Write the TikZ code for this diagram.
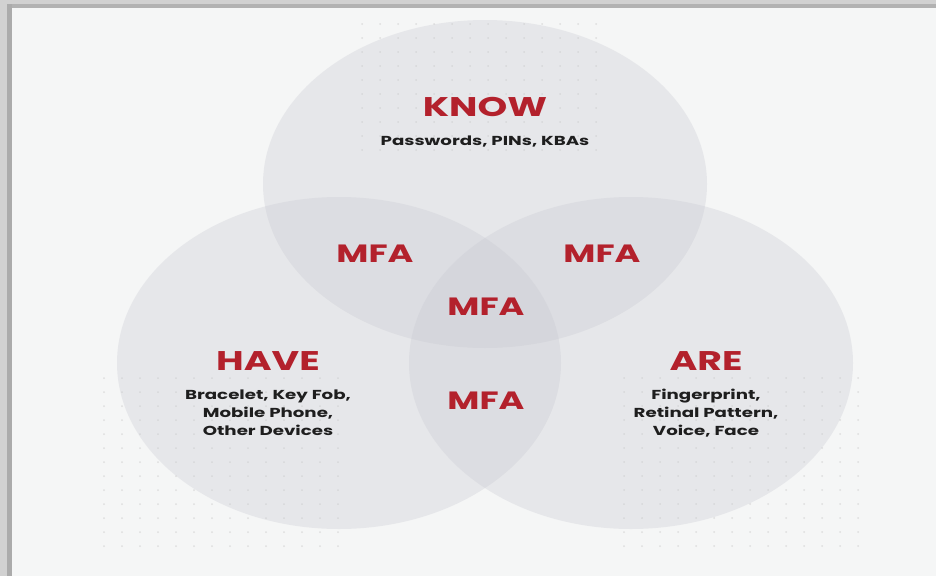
\documentclass[tikz,border=0pt]{standalone}
\usepackage{fontspec}
\setmainfont{Poppins}[FakeStretch=1.4]
\usepackage{xcolor}
\usetikzlibrary{positioning}
\definecolor{panel}{HTML}{F5F6F6}
\definecolor{disc}{HTML}{C6C7D0}
\definecolor{mfared}{HTML}{B3212C}
\definecolor{ink}{HTML}{1E1E1E}
\tikzset{
  set/.style={fill=disc,fill opacity=0.30},
  head/.style={text=mfared,font=\fontsize{27}{30}\selectfont\bfseries,inner sep=0pt},
  mfa/.style={text=mfared,font=\fontsize{25}{28}\selectfont\bfseries,inner sep=0pt},
  sub/.style={text=ink,font=\fontsize{13}{18}\selectfont\bfseries,align=center,inner sep=0pt},
  dot/.style={fill=black!13},
}

\begin{document}
\begin{tikzpicture}[x=1pt,y=-1pt]
\useasboundingbox (0,0) rectangle (936,576);
% panel and frame
\fill[panel] (0,0) rectangle (936,576);
\fill[black!18] (0,0) rectangle (936,8);
\fill[black!30] (0,4) rectangle (936,8);
\fill[black!18] (0,0) rectangle (12,576);
\fill[black!33] (7,4) rectangle (12,576);
% dot grids
\foreach \i in {0,...,13} \foreach \j in {0,...,9}
  \fill[dot] (362+\i*18,24+\j*14) circle (1);
\foreach \i in {0,...,13} \foreach \j in {0,...,12}
  \fill[dot] (104+\i*18,378+\j*14) circle (1);
\foreach \i in {0,...,13} \foreach \j in {0,...,12}
  \fill[dot] (624+\i*18,378+\j*14) circle (1);
% sets
\path[set] (485,184) ellipse (222 and 164);
\path[set] (339,363) ellipse (222 and 166);
\path[set] (631,363) ellipse (222 and 166);
% know
\node[head] (know) at (485,107) {KNOW};
\node[sub] (knowtxt) at (485,142) {Passwords, PINs, KBAs};
% have
\node[head] (have) at (268,361) {HAVE};
\node[sub] (havetxt) at (268,413) {Bracelet, Key Fob,\\Mobile Phone,\\Other Devices};
% are
\node[head] (are) at (706,361) {ARE};
\node[sub] (aretxt) at (706,413) {Fingerprint,\\Retinal Pattern,\\Voice, Face};
% overlaps
\node[mfa] (kh) at (375,254) {MFA};
\node[mfa] (ka) at (602,254) {MFA};
\node[mfa] (all) at (486,307) {MFA};
\node[mfa] (ha) at (486,401) {MFA};
\end{tikzpicture}
\end{document}
